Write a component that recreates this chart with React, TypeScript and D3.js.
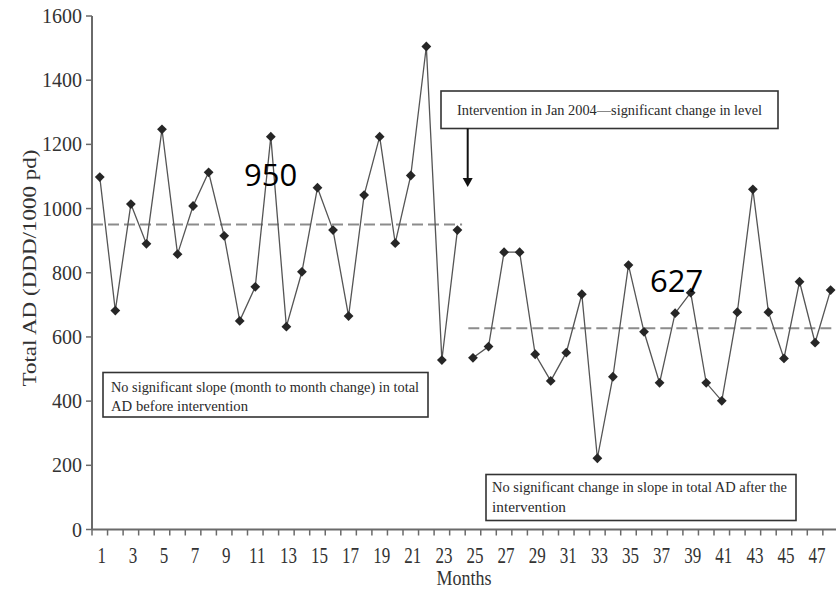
import { useEffect, useRef } from 'react';
import * as d3 from 'd3';

// monthly total AD (DDD/1000 pd)
const monthsBefore = [1, 2, 3, 4, 5, 6, 7, 8, 9, 10, 11, 12, 13, 14, 15, 16, 17, 18, 19, 20, 21, 22, 23, 24];
const valuesBefore = [1098, 682, 1014, 890, 1247, 858, 1008, 1113, 915, 650, 756, 1224, 632, 803, 1065, 933, 665, 1042, 1224, 892, 1103, 1505, 528, 933];
const monthsAfter = [25, 26, 27, 28, 29, 30, 31, 32, 33, 34, 35, 36, 37, 38, 39, 40, 41, 42, 43, 44, 45, 46, 47, 48];
const valuesAfter = [535, 570, 864, 864, 546, 463, 551, 733, 222, 476, 824, 616, 457, 674, 738, 457, 401, 677, 1060, 677, 533, 772, 582, 746];

const meanBefore = 950;
const meanAfter = 627;

const yTicks = [0, 200, 400, 600, 800, 1000, 1200, 1400, 1600];
const xLabels = [1, 3, 5, 7, 9, 11, 13, 15, 17, 19, 21, 23, 25, 27, 29, 31, 33, 35, 37, 39, 41, 43, 45, 47];

const WIDTH = 836;
const HEIGHT = 593;

export default function App() {
  const svgRef = useRef<SVGSVGElement>(null);

  useEffect(() => {
    if (!svgRef.current) return;
    const svg = d3.select(svgRef.current);
    svg.selectAll('*').remove();

    const x = d3.scaleLinear().domain([0.5, 48.5]).range([92, 838.4]);
    const y = d3.scaleLinear().domain([0, 1600]).range([529.5, 16]);

    const serif = 'Liberation Serif, Times New Roman, serif';
    const axisColor = '#6a6a6a';

    // mean (level) lines
    const dashed = (x1: number, x2: number, v: number) =>
      svg.append('line')
        .attr('x1', x(x1)).attr('x2', x(x2))
        .attr('y1', y(v)).attr('y2', y(v))
        .attr('stroke', '#8c8c8c')
        .attr('stroke-width', 2)
        .attr('stroke-dasharray', '11,5');
    dashed(0.5, 24.3, meanBefore);
    dashed(24.7, 48.5, meanAfter);

    // series
    const line = d3.line<[number, number]>()
      .x(d => x(d[0]))
      .y(d => y(d[1]));

    const segs = [
      monthsBefore.map((m, i) => [m, valuesBefore[i]] as [number, number]),
      monthsAfter.map((m, i) => [m, valuesAfter[i]] as [number, number]),
    ];

    segs.forEach(seg => {
      svg.append('path')
        .attr('d', line(seg) as string)
        .attr('fill', 'none')
        .attr('stroke', '#555')
        .attr('stroke-width', 1.3);
    });

    const diamond = d3.symbol().type(d3.symbolSquare).size(48);
    segs.flat().forEach(d => {
      svg.append('path')
        .attr('d', diamond() as string)
        .attr('transform', `translate(${x(d[0])},${y(d[1])}) rotate(45)`)
        .attr('fill', '#262626');
    });

    // axes
    svg.append('line')
      .attr('x1', x(0.5)).attr('x2', x(0.5))
      .attr('y1', y(1600)).attr('y2', y(0))
      .attr('stroke', axisColor).attr('stroke-width', 2);
    svg.append('line')
      .attr('x1', x(0.5)).attr('x2', WIDTH)
      .attr('y1', y(0)).attr('y2', y(0))
      .attr('stroke', axisColor).attr('stroke-width', 2);

    yTicks.forEach(t => {
      svg.append('line')
        .attr('x1', x(0.5) - 6).attr('x2', x(0.5))
        .attr('y1', y(t)).attr('y2', y(t))
        .attr('stroke', axisColor).attr('stroke-width', 1.5);
      svg.append('text')
        .attr('x', 82)
        .attr('y', y(t))
        .attr('text-anchor', 'end')
        .attr('dominant-baseline', 'central')
        .attr('font-family', serif)
        .attr('font-size', 20)
        .attr('fill', '#333')
        .text(t);
    });

    d3.range(0, 49).forEach(i => {
      const tx = x(i + 0.5);
      svg.append('line')
        .attr('x1', tx).attr('x2', tx)
        .attr('y1', y(0)).attr('y2', y(0) + 6)
        .attr('stroke', axisColor).attr('stroke-width', 1.5);
    });

    xLabels.forEach(m => {
      svg.append('text')
        .attr('transform', `translate(${x(m) + 2},563) scale(0.85,1.15)`)
        .attr('text-anchor', 'middle')
        .attr('font-family', serif)
        .attr('font-size', 20)
        .attr('fill', '#333')
        .text(m);
    });

    svg.append('text')
      .attr('transform', 'translate(464,585) scale(1,1.2)')
      .attr('text-anchor', 'middle')
      .attr('font-family', serif)
      .attr('font-size', 18)
      .attr('fill', '#333')
      .text('Months');

    svg.append('text')
      .attr('transform', 'translate(36,268) rotate(-90)')
      .attr('text-anchor', 'middle')
      .attr('font-family', serif)
      .attr('font-size', 19)
      .attr('fill', '#333')
      .attr('textLength', 237)
      .attr('lengthAdjust', 'spacingAndGlyphs')
      .text('Total AD (DDD/1000 pd)');

    // annotation boxes
    const box = (x0: number, y0: number, x1: number, y1: number) =>
      svg.append('rect')
        .attr('x', x0).attr('y', y0)
        .attr('width', x1 - x0).attr('height', y1 - y0)
        .attr('fill', '#fff')
        .attr('stroke', '#333')
        .attr('stroke-width', 1.6);

    const note = (tx: number, ty: number, len: number, s: string) =>
      svg.append('text')
        .attr('x', tx).attr('y', ty)
        .attr('font-family', serif)
        .attr('font-size', 15)
        .attr('fill', '#2a2a2a')
        .attr('textLength', len)
        .attr('lengthAdjust', 'spacingAndGlyphs')
        .text(s);

    box(441, 91, 778, 128.5);
    note(457, 115, 305, 'Intervention in Jan 2004\u2014significant change in level');

    svg.append('line')
      .attr('x1', 467.7).attr('x2', 467.7)
      .attr('y1', 128.5).attr('y2', 180)
      .attr('stroke', '#111').attr('stroke-width', 2);
    svg.append('path')
      .attr('d', 'M462.7,178 L472.7,178 L467.7,187 Z')
      .attr('fill', '#111');

    box(103, 372.5, 428, 417);
    note(111, 391.5, 308, 'No significant slope (month to month change) in total');
    note(111, 411, 137, 'AD before intervention');

    box(486, 474.5, 796, 520.5);
    note(492, 492, 295, 'No significant change in slope in total AD after the');
    note(492, 512, 74, 'intervention');

    // mean value labels
    const big = (tx: number, ty: number, s: string) =>
      svg.append('text')
        .attr('x', tx).attr('y', ty)
        .attr('font-family', 'Open Sans, DejaVu Sans, sans-serif')
        .attr('font-size', 31)
        .attr('fill', '#000')
        .text(s);
    big(244, 186, String(meanBefore));
    big(650, 291.5, String(meanAfter));
  }, []);

  return (
    <svg
      ref={svgRef}
      width={WIDTH}
      height={HEIGHT}
      style={{ position: 'absolute', left: 0, top: 0, background: '#fff' }}
    />
  );
}
